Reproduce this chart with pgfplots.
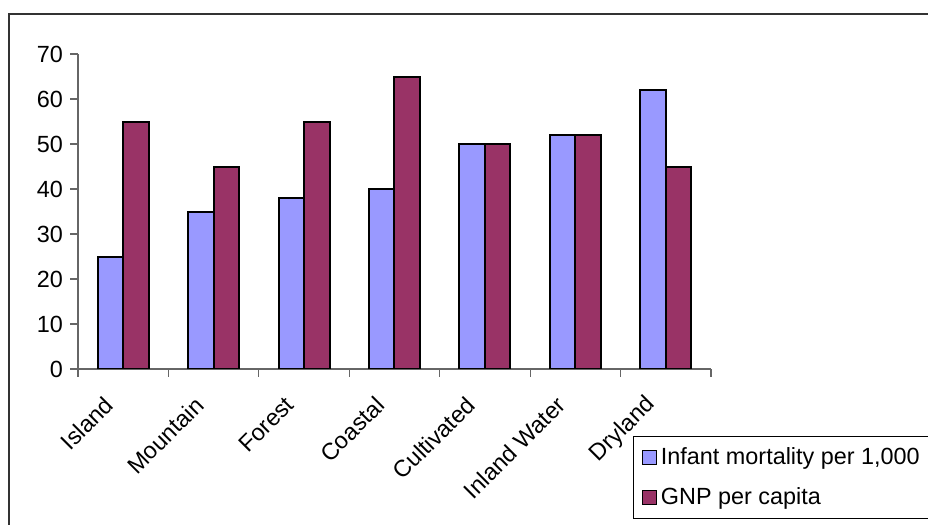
\documentclass[border=0pt]{standalone}
\usepackage{pgfplots}
\pgfplotsset{compat=1.18}
\usepackage{fontspec}
\setmainfont{Liberation Sans}
\definecolor{barblue}{HTML}{9999FF}
\definecolor{barred}{HTML}{993366}
\begin{document}
\begin{tikzpicture}
\useasboundingbox (0,0) rectangle (464pt,262.5pt);
\draw[black!80, line width=0.6pt] (4.5pt,-20pt) -- (4.5pt,255.5pt) -- (490pt,255.5pt);
\begin{axis}[
  at={(39pt,78pt)}, anchor=south west,
  scale only axis, width=316.5pt, height=157.5pt,
  xmin=-0.5, xmax=6.5, ymin=0, ymax=70,
  axis x line*=bottom, axis y line*=left,
  axis line style={black!60, line width=0.6pt},
  every tick/.style={black!60, line width=0.6pt},
  ytick={0,10,...,70},
  xtick={-0.5,0.5,...,6.5},
  x tick label as interval,
  xticklabels={Island,Mountain,Forest,Coastal,Cultivated,Inland Water,Dryland},
  tick align=outside,
  major tick length=4pt,
  /pgf/number format/assume math mode=true,
  ticklabel style={font=\fontsize{11.7}{14}\selectfont},
  xticklabel style={xshift=-7pt, yshift=-12pt, rotate=45, anchor=east, inner sep=0pt},
  ybar=0pt, bar width=12.75pt,
  legend style={at={(0.877,-0.2127)}, anchor=north west, draw=black, line width=0.6pt,
    font=\fontsize{11.7}{14}\selectfont, row sep=6pt, inner xsep=4pt, inner ysep=3.5pt,
    /tikz/every even column/.append style={column sep=3pt}},
  legend cell align=left,
  legend image code/.code={\draw[#1, line width=0.6pt] (0pt,-3.5pt) rectangle (7pt,3.5pt);},
]
\addplot[fill=barblue, draw=black, line width=1pt] coordinates {(0,25) (1,35) (2,38) (3,40) (4,50) (5,52) (6,62)};
\addplot[fill=barred, draw=black, line width=1pt] coordinates {(0,55) (1,45) (2,55) (3,65) (4,50) (5,52) (6,45)};
\legend{{Infant mortality per 1,000\hspace*{20pt}}, {GNP per capita}}
\end{axis}
\end{tikzpicture}
\end{document}
